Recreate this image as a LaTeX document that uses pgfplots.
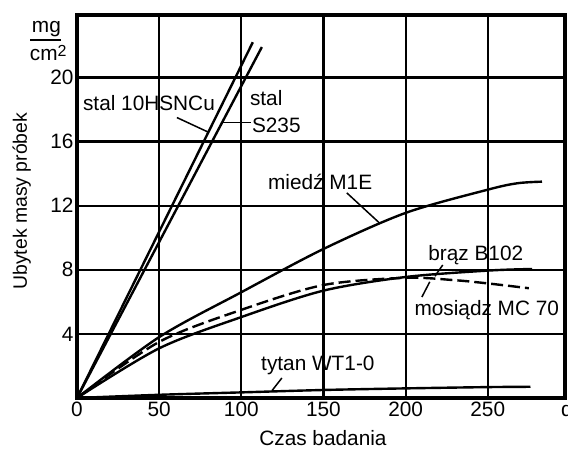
\documentclass[border=0pt]{standalone}
\usepackage{pgfplots}
\pgfplotsset{compat=1.18}
\usepackage{fontspec}
\setmainfont{Liberation Sans}

\newcommand{\lbl}{\fontsize{20.8}{24}\selectfont}

\begin{document}
\begin{tikzpicture}
\begin{axis}[
    name=ax,
    scale only axis,
    width=488pt, height=383pt,
    xmin=0, xmax=297, ymin=0, ymax=23.9,
    xtick={0,50,100,150,200,250},
    ytick={4,8,12,16,20},
    grid=major,
    major grid style={black, line width=2.2pt},
    axis line style={black, line width=4.5pt},
    major tick length=0pt,
    tick label style={font=\lbl},
    label style={font=\lbl},
    /pgf/number format/assume math mode=true,
    xlabel={Czas badania},
    ylabel={Ubytek masy próbek},
    xlabel style={at={(axis description cs:0.504,-0.104)}, anchor=center},
    ylabel style={at={(axis description cs:-0.113,0.514)}, anchor=center, font=\fontsize{19.4}{22}\selectfont},
    clip=false,
    every axis plot/.append style={black, line width=2.4pt, line join=round},
]
% stal 10HSNCu
\addplot[sharp plot] coordinates {(0,0) (107,22.2)};
% stal S235
\addplot[sharp plot] coordinates {(0,0) (112.5,21.9)};
% miedz M1E
\addplot[smooth] coordinates {(0,0) (50,3.8) (100,6.6) (150,9.3) (200,11.55) (250,13.0) (268,13.4) (283,13.5)};
% braz B102
\addplot[smooth] coordinates {(0,0) (50,3.1) (100,5.05) (150,6.7) (200,7.55) (250,7.95) (277,8.05)};
% mosiadz MC 70
\addplot[smooth, dash pattern=on 12pt off 5pt] coordinates {(0,0) (50,3.5) (100,5.5) (150,7.05) (200,7.5) (230,7.35) (250,7.15) (275,6.85)};
% tytan WT1-0
\addplot[smooth] coordinates {(0,0) (50,0.2) (100,0.35) (150,0.5) (200,0.6) (250,0.68) (276,0.7)};

% labels and leaders
\node[font=\lbl] at (axis cs:43.8,18.4) {stal 10HSNCu};
\draw[line width=1.5pt] (axis cs:60.8,17.5) -- (axis cs:79.7,16.6);
\node[font=\lbl, anchor=west, inner xsep=0pt] at (axis cs:105.2,18.7) {stal};
\node[font=\lbl, anchor=west, inner xsep=0pt] at (axis cs:106.4,17.0) {S235};
\draw[line width=1.5pt] (axis cs:88,17.2) -- (axis cs:106,17.2);
\node[font=\lbl] at (axis cs:148,13.5) {miedź M1E};
\draw[line width=1.5pt] (axis cs:164.2,12.8) -- (axis cs:184.3,10.9);
\node[font=\lbl] at (axis cs:242.7,8.9) {brąz B102};
\draw[line width=1.5pt] (axis cs:222.6,8.3) -- (axis cs:217.8,7.6);
\node[font=\lbl] at (axis cs:249.4,5.5) {mosiądz MC 70};
\draw[line width=1.5pt] (axis cs:209.9,6.3) -- (axis cs:214.7,7.25);
\node[font=\lbl] at (axis cs:146.6,2.06) {tytan WT1-0};
\draw[line width=1.5pt] (axis cs:124.7,1.25) -- (axis cs:118.6,0.45);

% unit mg/cm2
\node[font=\lbl] at (axis cs:-18.6,23.05) {mg};
\draw[line width=1.8pt] (axis cs:-28.6,22.36) -- (axis cs:-9.5,22.36);
\node[font=\lbl] at (axis cs:-17.5,21.55) {cm\raisebox{0.35ex}{\fontsize{16}{18}\selectfont 2}};
\node[font=\lbl, anchor=north west, inner xsep=0pt] at (axis cs:294.5,0) {d};
\end{axis}
\pgfresetboundingbox
\path[use as bounding box] ([shift={(-77pt,-51pt)}]ax.south west) rectangle ([shift={(3pt,15pt)}]ax.north east);
\end{tikzpicture}
\end{document}
